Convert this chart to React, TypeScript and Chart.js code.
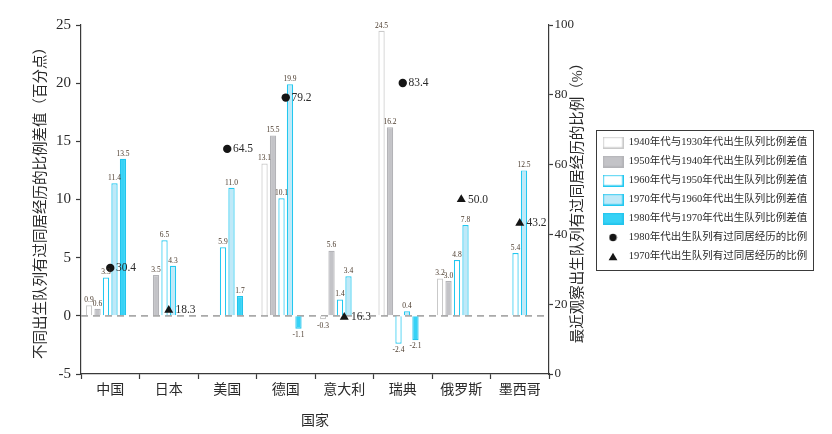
import React, { useEffect, useRef } from 'react';
import { Chart, registerables } from 'chart.js';

Chart.register(...registerables);

// ---------- data ----------
const categories = ['中国', '日本', '美国', '德国', '意大利', '瑞典', '俄罗斯', '墨西哥'];
const diff1940vs1930 = [0.9, null, null, 13.1, -0.3, 24.5, 3.2, null];
const diff1950vs1940 = [0.6, 3.5, null, 15.5, 5.6, 16.2, 3.0, null];
const diff1960vs1950 = [3.3, 6.5, 5.9, 10.1, 1.4, -2.4, 4.8, 5.4];
const diff1970vs1960 = [11.4, 4.3, 11.0, 19.9, 3.4, 0.4, 7.8, 12.5];
const diff1980vs1970 = [13.5, null, 1.7, -1.1, null, -2.1, null, null];
const share1980 = [30.4, null, 64.5, 79.2, null, 83.4, null, null];
const share1970 = [null, 18.3, null, null, 16.3, null, 50.0, 43.2];
const emptySlot = [null, null, null, null, null, null, null, null];

const seriesLabels = [
  '1940年代与1930年代出生队列比例差值',
  '1950年代与1940年代出生队列比例差值',
  '1960年代与1950年代出生队列比例差值',
  '1970年代与1960年代出生队列比例差值',
  '1980年代与1970年代出生队列比例差值',
  '1980年代出生队列有过同居经历的比例',
  '1970年代出生队列有过同居经历的比例',
];
const leftTitle = '不同出生队列有过同居经历的比例差值（百分点）';
const rightTitle = '最近观察出生队列有过同居经历的比例（%）';
const xTitle = '国家';
const leftMin = -5, leftMax = 25, leftStep = 5;
const rightMin = 0, rightMax = 100, rightStep = 20;

// ---------- styles ----------
const FONT = "'Liberation Serif', 'Noto Sans CJK SC', serif";
const barFill = ['#ffffff', '#c3c3c7', '#ffffff', '#bfe9f8', '#36d2f6'];
const barStroke = ['#c9c9c9', '#b3b3b7', '#22c8f0', '#22c8f0', '#22c4ec'];
const AXIS = '#3a3a3a';
const TEXT = '#2a2a2a';

function makeIcon(kind: string, fill: string, stroke: string): HTMLCanvasElement {
  const c = document.createElement('canvas');
  const g = c.getContext('2d')!;
  if (kind === 'rect') {
    c.width = 21; c.height = 12;
    g.fillStyle = fill; g.fillRect(0, 0, 21, 12);
    g.strokeStyle = stroke; g.lineWidth = 1.3; g.strokeRect(0.65, 0.65, 19.7, 10.7);
  } else if (kind === 'circle') {
    c.width = 9; c.height = 9;
    g.fillStyle = '#151515'; g.beginPath(); g.arc(4.5, 4.5, 3.7, 0, Math.PI * 2); g.fill();
  } else {
    c.width = 10; c.height = 9;
    g.fillStyle = '#151515'; g.beginPath(); g.moveTo(5, 0.8); g.lineTo(9.4, 8.3); g.lineTo(0.6, 8.3); g.closePath(); g.fill();
  }
  return c;
}

const LEGEND_W = 238;

const overlayPlugin = {
  id: 'overlay',
  beforeDatasetsDraw(chart: any) {
    const { ctx, chartArea, scales } = chart;
    const y0 = scales.y.getPixelForValue(0);
    ctx.save();
    ctx.strokeStyle = '#a9a9a9';
    ctx.lineWidth = 1.8;
    ctx.setLineDash([7, 5]);
    ctx.beginPath();
    ctx.moveTo(chartArea.left, y0);
    ctx.lineTo(chartArea.right, y0);
    ctx.stroke();
    ctx.restore();
  },
  afterDatasetsDraw(chart: any) {
    const { ctx } = chart;
    ctx.save();
    chart.data.datasets.forEach((ds: any, i: number) => {
      const meta = chart.getDatasetMeta(i);
      if (ds.isDummy) return;
      if (ds.type === 'line') {
        ctx.font = `11.5px ${FONT}`;
        ctx.fillStyle = TEXT;
        ctx.textAlign = 'left';
        ctx.textBaseline = 'middle';
        meta.data.forEach((pt: any, j: number) => {
          const v = ds.data[j];
          if (v === null || v === undefined) return;
          ctx.fillText(Number(v).toFixed(1), pt.x + ds.pointRadius + 1.5, pt.y);
        });
      } else {
        ctx.font = `7.5px ${FONT}`;
        ctx.fillStyle = '#4a3a2c';
        ctx.textAlign = 'center';
        meta.data.forEach((bar: any, j: number) => {
          const v = ds.data[j];
          if (v === null || v === undefined) return;
          if (v >= 0) {
            ctx.textBaseline = 'bottom';
            ctx.fillText(Number(v).toFixed(1), bar.x, bar.y - 1.5);
          } else {
            ctx.textBaseline = 'top';
            ctx.fillText(Number(v).toFixed(1), bar.x, bar.y + 2.5);
          }
        });
      }
    });
    ctx.restore();
  },
  afterDraw(chart: any) {
    const { ctx, chartArea } = chart;
    ctx.save();
    // right axis title (reads bottom to top)
    ctx.translate(578, (chartArea.top + chartArea.bottom) / 2);
    ctx.rotate(-Math.PI / 2);
    ctx.font = `14.5px ${FONT}`;
    ctx.fillStyle = TEXT;
    ctx.textAlign = 'center';
    ctx.textBaseline = 'middle';
    ctx.fillText(rightTitle, 0, 0);
    ctx.restore();
    // legend frame
    const lg = chart.legend;
    if (lg && lg.legendHitBoxes && lg.legendHitBoxes.length) {
      const hb = lg.legendHitBoxes;
      let l = Infinity, t = Infinity, r = -Infinity, b = -Infinity;
      hb.forEach((h: any) => {
        l = Math.min(l, h.left); t = Math.min(t, h.top);
        r = Math.max(r, h.left + h.width); b = Math.max(b, h.top + h.height);
      });
      ctx.save();
      ctx.strokeStyle = '#3a3a3a';
      ctx.lineWidth = 1;
      ctx.strokeRect(Math.round(l - 6.5) + 0.5, Math.round(t - 7.5) + 0.5, Math.round(r - l + 12.5), Math.round(b - t + 15));
      ctx.restore();
    }
  },
};

export default function App() {
  const ref = useRef<HTMLCanvasElement>(null);

  useEffect(() => {
    const canvas = ref.current!;
    const icons = [
      ...barFill.map((f, i) => makeIcon('rect', f, barStroke[i])),
      makeIcon('circle', '#151515', '#151515'),
      makeIcon('triangle', '#151515', '#151515'),
    ];
    const barSeries = [diff1940vs1930, diff1950vs1940, diff1960vs1950, diff1970vs1960, diff1980vs1970];
    const datasets: any[] = barSeries.map((d, i) => ({
      type: 'bar',
      label: seriesLabels[i],
      data: d,
      backgroundColor: barFill[i],
      borderColor: barStroke[i],
      borderWidth: 1.2,
      yAxisID: 'y',
      order: 1,
      categoryPercentage: 0.87,
      barPercentage: 0.74,
    }));
    datasets.push({
      type: 'bar', label: '', data: emptySlot, isDummy: true, yAxisID: 'y', order: 1,
      categoryPercentage: 0.87, barPercentage: 0.74, backgroundColor: 'transparent',
    });
    datasets.push({
      type: 'line', label: seriesLabels[5], data: share1980, yAxisID: 'y2', showLine: false,
      pointStyle: 'circle', pointRadius: 4.2, pointHoverRadius: 4.2, pointBorderWidth: 0,
      backgroundColor: '#151515', borderColor: '#151515', order: 0,
    });
    datasets.push({
      type: 'line', label: seriesLabels[6], data: share1970, yAxisID: 'y2', showLine: false,
      pointStyle: 'triangle', pointRadius: 5.2, pointHoverRadius: 5.2, pointBorderWidth: 0,
      backgroundColor: '#151515', borderColor: '#151515', order: 0,
    });

    const legendIdx = [0, 1, 2, 3, 4, 6, 7];

    const chart = new Chart(canvas, {
      type: 'bar',
      data: { labels: categories, datasets },
      plugins: [overlayPlugin],
      options: {
        animation: false,
        responsive: false,
        maintainAspectRatio: false,
        devicePixelRatio: 1,
        layout: { padding: { top: 25, left: 0, right: 0, bottom: 0 } },
        plugins: {
          tooltip: { enabled: false },
          title: { display: false },
          legend: {
            display: true,
            position: 'right',
            align: 'center',
            fullSize: false,
            labels: {
              usePointStyle: true,
              pointStyleWidth: 21,
              padding: 8.5,
              color: TEXT,
              font: { family: FONT, size: 10.5 },
              generateLabels: () =>
                legendIdx.map((dsIdx, k) => ({
                  text: seriesLabels[k],
                  fillStyle: '#000',
                  strokeStyle: '#000',
                  lineWidth: 0,
                  hidden: false,
                  pointStyle: icons[k],
                  datasetIndex: dsIdx,
                  fontColor: TEXT,
                })),
            },
          },
        },
        scales: {
          x: {
            type: 'category',
            offset: true,
            afterFit: (s: any) => { s.height = 60; },
            grid: { display: true, drawOnChartArea: false, offset: true, tickLength: 5, tickColor: AXIS, tickWidth: 1.2 },
            border: { display: true, color: AXIS, width: 1.2 },
            ticks: { color: TEXT, font: { family: FONT, size: 14 }, padding: 3, maxRotation: 0, autoSkip: false },
            title: { display: true, text: xTitle, color: TEXT, font: { family: FONT, size: 14 }, padding: { top: 4, bottom: 4.6 } },
          },
          y: {
            type: 'linear',
            position: 'left',
            min: leftMin,
            max: leftMax,
            afterFit: (s: any) => { s.width = 81; },
            grid: { display: true, drawOnChartArea: false, tickLength: 5, tickColor: AXIS, tickWidth: 1.2 },
            border: { display: true, color: AXIS, width: 1.2 },
            ticks: { stepSize: leftStep, color: TEXT, font: { family: FONT, size: 15 }, padding: 5 },
            title: { display: true, text: leftTitle, color: TEXT, font: { family: FONT, size: 14.5 }, padding: { top: 32, bottom: 0 } },
          },
          y2: {
            type: 'linear',
            position: 'right',
            min: rightMin,
            max: rightMax,
            afterFit: (s: any) => { s.width = 832 - LEGEND_W - 549; },
            grid: { display: true, drawOnChartArea: false, tickLength: 4, tickColor: AXIS, tickWidth: 1.2 },
            border: { display: true, color: AXIS, width: 1.2 },
            ticks: { stepSize: rightStep, color: TEXT, font: { family: FONT, size: 13 }, padding: 1.5 },
            title: { display: false },
          },
        },
      } as any,
    } as any);

    const lg: any = (chart as any).legend;
    if (lg) {
      const origFit = lg.fit.bind(lg);
      lg.fit = () => { origFit(); lg.width = LEGEND_W; };
      chart.update();
    }
    return () => chart.destroy();
  }, []);

  return (
    <div style={{ position: 'fixed', left: 0, top: 0, width: 832, height: 434, background: '#fff' }}>
      <canvas ref={ref} width={832} height={434} style={{ width: 832, height: 434, display: 'block' }} />
    </div>
  );
}
